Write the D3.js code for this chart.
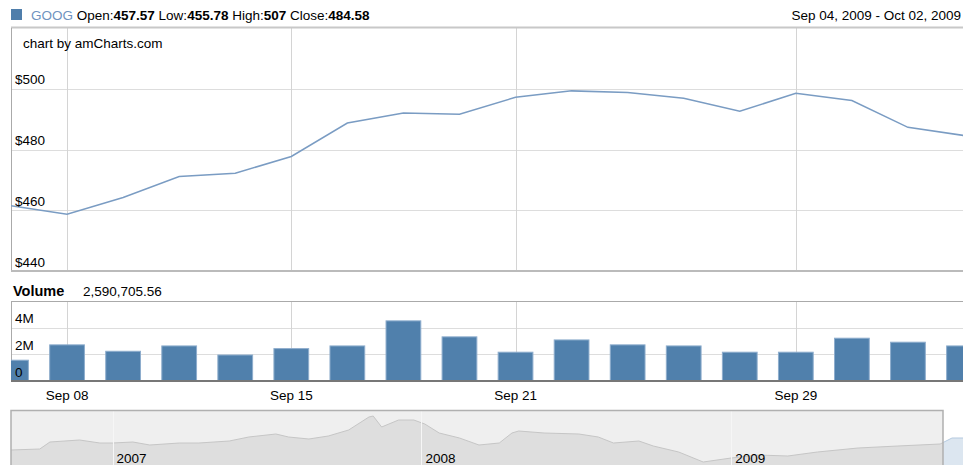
<!DOCTYPE html>
<html>
<head>
<meta charset="utf-8">
<script src="https://cdn.jsdelivr.net/npm/d3@7/dist/d3.min.js"></script>
<style>
html,body{margin:0;padding:0;background:#fff;}
svg{display:block;font-family:"Liberation Sans",Arial,sans-serif;}
</style>
</head>
<body>
<svg id="chart" width="963" height="465"></svg>
<script>
// ---- data ----
const categories = ["Sep 04","Sep 08","Sep 09","Sep 10","Sep 11","Sep 15","Sep 16","Sep 17","Sep 18",
  "Sep 21","Sep 22","Sep 23","Sep 24","Sep 25","Sep 29","Sep 30","Oct 01","Oct 02"];
const closeValues = [461.5,458.7,464.2,471.1,472.2,477.7,488.7,492.0,491.6,
  497.2,499.3,498.8,496.9,492.6,498.5,496.1,487.3,484.6];
const volumeValues = [1.56e6,2.71e6,2.23e6,2.63e6,1.95e6,2.43e6,2.63e6,4.51e6,3.31e6,
  2.16e6,3.08e6,2.71e6,2.63e6,2.16e6,2.16e6,3.21e6,2.91e6,2.63e6];
const tickLabels = ["Sep 08","Sep 15","Sep 21","Sep 29"];
const priceTicks = [440,460,480,500];
const volumeTicks = [0,2e6,4e6];
const scrollDates = ["2006-09-03","2006-10-07","2006-10-19","2006-11-23","2006-12-17","2007-01-01","2007-01-25",
  "2007-02-14","2007-03-21","2007-04-13","2007-05-19","2007-06-11","2007-07-13","2007-07-28","2007-08-21",
  "2007-09-13","2007-10-07","2007-10-31","2007-11-05","2007-11-15","2007-12-05","2007-12-23","2008-01-05",
  "2008-01-22","2008-02-15","2008-03-09","2008-04-02","2008-04-17","2008-04-25","2008-05-25","2008-07-05",
  "2008-07-28","2008-08-15","2008-09-14","2008-10-01","2008-10-31","2008-11-29","2009-01-01","2009-02-02",
  "2009-03-09","2009-04-13","2009-05-31","2009-07-17","2009-09-05","2009-09-19","2009-10-02"];
const scrollValues = [390,400,470,490,460,460,470,440,460,460,480,520,550,520,500,530,590,720,730,620,690,690,650,
  560,510,440,460,560,580,560,550,520,460,480,430,370,270,310,340,330,370,410,430,450,510,510];
const yearLabels = ["2007","2008","2009"];
const header = {symbol:"GOOG", open:"457.57", low:"455.78", high:"507", close:"484.58",
  range:"Sep 04, 2009 - Oct 02, 2009", volume:"2,590,705.56"};

// ---- layout ----
const FS = 13.5;
const svg = d3.select("#chart");
const W = 963;
const L = 11, R = 964;
const mainTop = 28, mainBot = 271;
const volTop = 301, volBot = 381;
const scTop = 410, scBot = 466;

const x = d3.scalePoint().domain(categories).range([L, R]);
const y = d3.scaleLinear().domain([440,520]).range([mainBot, mainTop]);
const yv = d3.scaleLinear().domain([0,6e6]).range([volBot, volTop]);
const parse = d3.timeParse("%Y-%m-%d");
const sDates = scrollDates.map(parse);
const xs = d3.scaleTime().domain([sDates[0], sDates[sDates.length-1]]).range([L, 963]);
const ys = d3.scaleLinear().domain([250,750]).range([464,414]);

const defs = svg.append("defs");
defs.append("clipPath").attr("id","clipMain").append("rect")
  .attr("x",L).attr("y",mainTop).attr("width",W-L).attr("height",mainBot-mainTop);
defs.append("clipPath").attr("id","clipVol").append("rect")
  .attr("x",L).attr("y",volTop).attr("width",W-L).attr("height",volBot-volTop);

// ---- header ----
svg.append("rect").attr("x",11).attr("y",9).attr("width",11).attr("height",11).attr("fill","#4F7EAB");
const ht = svg.append("text").attr("x",31).attr("y",20).attr("font-size",FS).attr("fill","#000");
ht.append("tspan").attr("fill","#6F93C0").text(header.symbol + " ");
ht.append("tspan").text("Open:");
ht.append("tspan").attr("font-weight","bold").text(header.open + " ");
ht.append("tspan").text("Low:");
ht.append("tspan").attr("font-weight","bold").text(header.low + " ");
ht.append("tspan").text("High:");
ht.append("tspan").attr("font-weight","bold").text(header.high + " ");
ht.append("tspan").text("Close:");
ht.append("tspan").attr("font-weight","bold").text(header.close);
svg.append("text").attr("x",961).attr("y",20).attr("text-anchor","end").attr("font-size",FS)
  .attr("fill","#000").text(header.range);

// ---- main panel ----
const gMain = svg.append("g");
gMain.append("g").selectAll("line").data(priceTicks.slice(1)).join("line")
  .attr("x1",L).attr("x2",W).attr("y1",d=>Math.round(y(d))+0.5).attr("y2",d=>Math.round(y(d))+0.5)
  .attr("stroke","#DDDDDD");
gMain.append("g").selectAll("line").data(tickLabels).join("line")
  .attr("x1",d=>Math.round(x(d))+0.5).attr("x2",d=>Math.round(x(d))+0.5)
  .attr("y1",mainTop).attr("y2",mainBot).attr("stroke","#D4D4D4");
gMain.append("line").attr("x1",L).attr("x2",W).attr("y1",mainTop-0.5).attr("y2",mainTop-0.5).attr("stroke","#C8C8C8").attr("stroke-width",2);
gMain.append("line").attr("x1",L+0.5).attr("x2",L+0.5).attr("y1",mainTop).attr("y2",mainBot).attr("stroke","#AAAAAA");
gMain.append("line").attr("x1",L).attr("x2",W).attr("y1",mainBot).attr("y2",mainBot).attr("stroke","#BBBBBB").attr("stroke-width",2);

const line = d3.line().x((d,i)=>x(categories[i])).y(d=>y(d));
gMain.append("path").datum(closeValues).attr("clip-path","url(#clipMain)")
  .attr("fill","none").attr("stroke","#7A9CC3").attr("stroke-width",1.5).attr("d",line);

gMain.append("g").selectAll("text").data(priceTicks).join("text")
  .attr("x",15).attr("y",d=>y(d)-4.5).attr("font-size",FS).attr("fill","#000")
  .text(d=>"$"+d);
svg.append("text").attr("x",23).attr("y",48).attr("font-size",FS).attr("fill","#000").text("chart by amCharts.com");

// ---- volume panel ----
svg.append("text").attr("x",13).attr("y",296).attr("font-size",14.5).attr("font-weight","bold").attr("fill","#000").text("Volume");
svg.append("text").attr("x",83).attr("y",296).attr("font-size",FS).attr("fill","#000").text(header.volume);

const gVol = svg.append("g");
gVol.append("g").selectAll("line").data(volumeTicks.slice(1)).join("line")
  .attr("x1",L).attr("x2",W).attr("y1",d=>Math.round(yv(d))+0.5).attr("y2",d=>Math.round(yv(d))+0.5)
  .attr("stroke","#DDDDDD");
gVol.append("g").selectAll("line").data(tickLabels).join("line")
  .attr("x1",d=>Math.round(x(d))+0.5).attr("x2",d=>Math.round(x(d))+0.5)
  .attr("y1",volTop).attr("y2",volBot).attr("stroke","#D4D4D4");
gVol.append("line").attr("x1",L).attr("x2",W).attr("y1",volTop+0.5).attr("y2",volTop+0.5).attr("stroke","#AAAAAA");
gVol.append("line").attr("x1",L+0.5).attr("x2",L+0.5).attr("y1",volTop).attr("y2",volBot).attr("stroke","#AAAAAA");

const bw = x.step()*0.62;
gVol.append("g").attr("clip-path","url(#clipVol)").selectAll("rect").data(volumeValues).join("rect")
  .attr("x",(d,i)=>x(categories[i])-bw/2).attr("width",bw)
  .attr("y",d=>yv(d)).attr("height",d=>volBot-yv(d))
  .attr("fill","#5080AC").attr("stroke","#8EADCD").attr("stroke-width",1);
gVol.append("line").attr("x1",L).attr("x2",W).attr("y1",volBot).attr("y2",volBot).attr("stroke","#777777").attr("stroke-width",2);

gVol.append("g").selectAll("text").data(volumeTicks).join("text")
  .attr("x",15).attr("y",d=>yv(d)-4.5).attr("font-size",FS).attr("fill","#000")
  .text(d=>d===0?"0":(d/1e6)+"M");

svg.append("g").selectAll("text").data(tickLabels).join("text")
  .attr("x",d=>x(d)).attr("y",400).attr("text-anchor","middle").attr("font-size",FS).attr("fill","#000")
  .text(d=>d);

// ---- scrollbar ----
const selStart = d3.timeParse("%b %d %Y")(categories[0]+" 2009");
const boxR = Math.round(xs(selStart))+4;
const gS = svg.append("g");
gS.append("defs").append("clipPath").attr("id","clipUnsel").append("rect")
  .attr("x",L).attr("y",scTop).attr("width",boxR-L).attr("height",scBot-scTop);
gS.append("defs").append("clipPath").attr("id","clipSel").append("rect")
  .attr("x",boxR).attr("y",scTop).attr("width",W-boxR).attr("height",scBot-scTop);
gS.append("rect").attr("x",L).attr("y",scTop).attr("width",boxR-L).attr("height",scBot-scTop).attr("fill","#EFEFEF");
const area = d3.area().x((d,i)=>xs(sDates[i])).y0(scBot).y1(d=>ys(d));
const sline = d3.line().x((d,i)=>xs(sDates[i])).y(d=>ys(d));
gS.append("path").datum(scrollValues).attr("clip-path","url(#clipUnsel)").attr("fill","#DEDEDE").attr("d",area);
gS.append("path").datum(scrollValues).attr("clip-path","url(#clipUnsel)").attr("fill","none").attr("stroke","#C6C6C6").attr("stroke-width",1).attr("d",sline);
gS.append("path").datum(scrollValues).attr("clip-path","url(#clipSel)").attr("fill","#DCE6F0").attr("d",area);
gS.append("path").datum(scrollValues).attr("clip-path","url(#clipSel)").attr("fill","none").attr("stroke","#B4C9DF").attr("stroke-width",1).attr("d",sline);
const yearDates = yearLabels.map(s=>parse(s+"-01-01"));
gS.selectAll("line.yr").data(yearDates).join("line").attr("class","yr")
  .attr("x1",d=>Math.round(xs(d))+0.5).attr("x2",d=>Math.round(xs(d))+0.5)
  .attr("y1",scTop).attr("y2",scBot).attr("stroke","#F6F6F6");
gS.selectAll("text").data(yearLabels).join("text")
  .attr("x",(d,i)=>xs(yearDates[i])+4).attr("y",463).attr("font-size",FS).attr("fill","#000").text(d=>d);
gS.append("path").attr("fill","none").attr("stroke","#B0B0B0").attr("stroke-width",1.5)
  .attr("d",`M${L},${scBot}V${scTop+0.5}H${boxR}V${scBot}`);
</script>
</body>
</html>
